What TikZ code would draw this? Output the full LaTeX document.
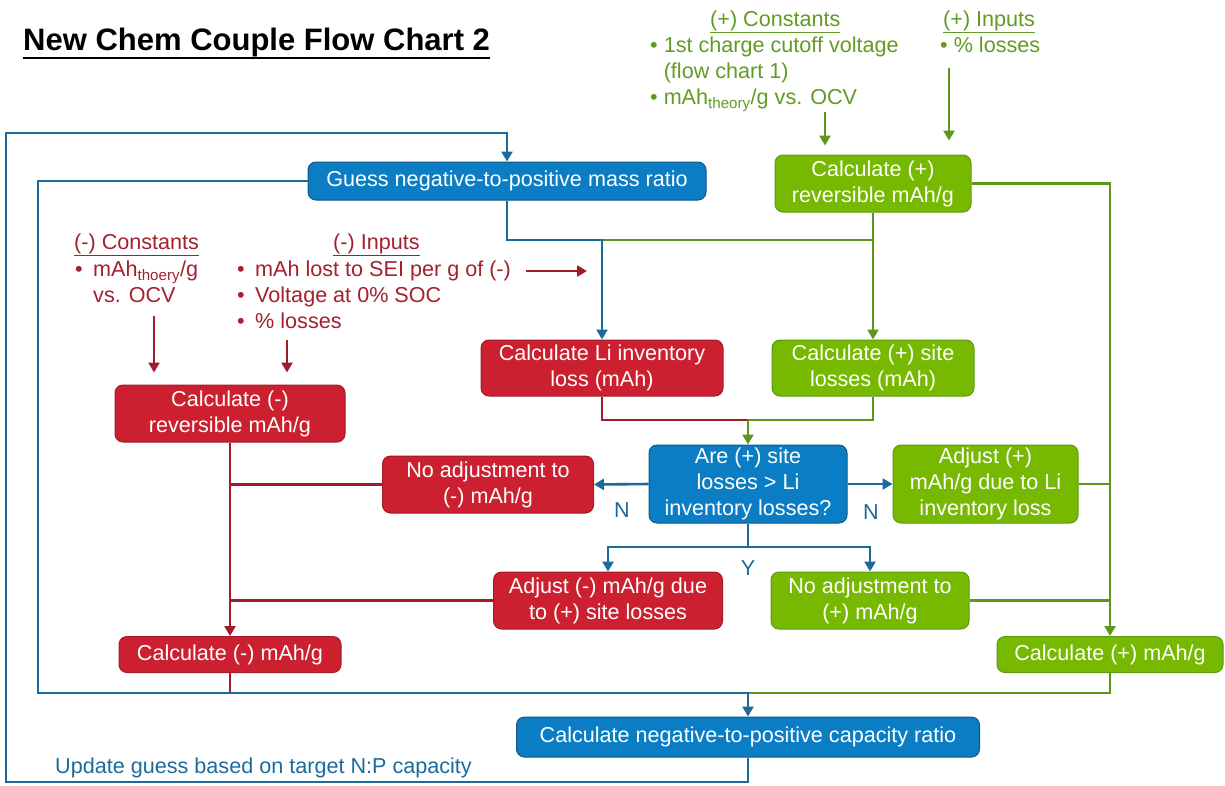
\documentclass[tikz,border=0pt]{standalone}
\usepackage{fontspec}
\setmainfont{Liberation Sans}
\usepackage{tikz}
\usepackage{xcolor}
\usetikzlibrary{arrows.meta,positioning,calc}
\definecolor{negfill}{HTML}{CC1F2F}
\definecolor{negline}{HTML}{A01C2B}
\definecolor{negtext}{HTML}{A3202E}
\definecolor{posfill}{HTML}{76B900}
\definecolor{posedge}{HTML}{5C9A12}
\definecolor{posline}{HTML}{5E961B}
\definecolor{postext}{HTML}{629B22}
\definecolor{ratfill}{HTML}{0A7DC4}
\definecolor{ratedge}{HTML}{16557F}
\definecolor{ratline}{HTML}{1C6A9C}
\newcommand{\boxfont}{\fontsize{21.6}{26}\selectfont}
\newcommand{\negbul}{\makebox[18pt][l]{\textbullet}}
\tikzset{
  box/.style={rounded corners=8pt, line width=1pt, text=white, align=center,
              inner sep=2pt, font=\boxfont},
  negbox/.style={box, draw=negline, fill=negfill},
  posbox/.style={box, draw=posedge, fill=posfill},
  ratbox/.style={box, draw=ratedge, fill=ratfill},
  wire/.style={line width=2.6pt},
  negwire/.style={wire, draw=negline},
  poswire/.style={wire, draw=posline},
  ratwire/.style={wire, draw=ratline},
  tip/.style={-{Triangle[length=10pt,width=11pt]}},
  note/.style={align=left, inner sep=0pt, font=\boxfont, anchor=base west}
}

\begin{document}
\begin{tikzpicture}[x=1pt,y=-1pt]
    \useasboundingbox (0,0) rectangle (1225,785);
    \node[font=\fontsize{31}{36}\selectfont\bfseries, anchor=base west, inner sep=0pt]
      (title) at (23,50) {New Chem Couple Flow Chart 2};
    \draw[line width=2.4pt] ([yshift=-8pt]title.base west) -- ([yshift=-8pt]title.base east);

    % ===== inputs and constants (base = last line) =====
    \node[note, text=postext] (posconsthead) at (710,26) {\underline{(+) Constants}};
    \node[note, text=postext] (posconst) at (650,104.5)
      {\textbullet{} 1st charge cutoff voltage\\
       \phantom{\textbullet{} }(flow chart 1)\\
       \textbullet{} mAh\textsubscript{theory}/g vs. OCV};
    \node[note, text=postext] (posinhead) at (943,26) {\underline{(+) Inputs}};
    \node[note, text=postext] (posin) at (940,52.5) {\textbullet{} \% losses};
    \node[note, text=negtext] (negconsthead) at (74,249) {\underline{(-) Constants}};
    \node[note, text=negtext] (negconst) at (75,302.5)
      {\negbul mAh\textsubscript{thoery}/g\\
       \phantom{\negbul}vs. OCV};
    \node[note, text=negtext] (neginhead) at (333,249) {\underline{(-) Inputs}};
    \node[note, text=negtext] (negin) at (237,328.5)
      {\negbul mAh lost to SEI per g of (-)\\
       \negbul Voltage at 0\% SOC\\
       \negbul \% losses};

    % ===== boxes =====
    \node[ratbox, minimum width=398pt, minimum height=38pt] (guess) at (507,181)
      {Guess negative-to-positive mass ratio};
    \node[posbox, minimum width=196pt, minimum height=57pt] (revpos) at (873,183.5)
      {Calculate (+)\\reversible mAh/g};
    \node[negbox, minimum width=230pt, minimum height=57pt] (revneg) at (230,413.5)
      {Calculate (-)\\reversible mAh/g};
    \node[negbox, minimum width=242pt, minimum height=56pt] (liloss) at (602,368)
      {Calculate Li inventory\\loss (mAh)};
    \node[posbox, minimum width=202pt, minimum height=56pt] (siteloss) at (873,368)
      {Calculate (+) site\\losses (mAh)};
    \node[ratbox, minimum width=198pt, minimum height=78pt] (decide) at (748,484)
      {Are (+) site\\losses > Li\\inventory losses?};
    \node[negbox, minimum width=211pt, minimum height=57pt] (noadjneg) at (488,484.5)
      {No adjustment to\\(-) mAh/g};
    \node[posbox, minimum width=185pt, minimum height=78pt] (adjpos) at (985.5,484)
      {Adjust (+)\\mAh/g due to Li\\inventory loss};
    \node[negbox, minimum width=229pt, minimum height=57pt] (adjneg) at (608,600.5)
      {Adjust (-) mAh/g due\\to (+) site losses};
    \node[posbox, minimum width=198pt, minimum height=57pt] (noadjpos) at (870,600.5)
      {No adjustment to\\(+) mAh/g};
    \node[negbox, minimum width=222pt, minimum height=36pt] (calcneg) at (230,654.5)
      {Calculate (-) mAh/g};
    \node[posbox, minimum width=226pt, minimum height=36pt] (calcpos) at (1110,654.5)
      {Calculate (+) mAh/g};
    \node[ratbox, minimum width=463pt, minimum height=40pt] (npratio) at (748,737)
      {Calculate negative-to-positive capacity ratio};

    % ===== labels =====
    \node[font=\boxfont, text=ratline] (nleft) at (622,510) {N};
    \node[font=\boxfont, text=ratline] (nright) at (871,512) {N};
    \node[font=\boxfont, text=ratline] (yes) at (748,568) {Y};
    \node[note, text=ratline] (update) at (55,773)
      {Update guess based on target N:P capacity};

    % ===== helper points =====
    \coordinate (busy) at (0,240);
    \coordinate (mergeA) at (748,420);
    \coordinate (ysplit) at (748,547);
    \coordinate (joinbot) at (748,693);
    \coordinate (loopbl) at (6,782);
    \coordinate (looptl) at (6,133);
    \coordinate (innerbl) at (38,693);
    \coordinate (seifrom) at (526,271);
    \coordinate (seitip) at (587,271);
    \coordinate (posconstout) at (825,112);
    \coordinate (posinout) at (949,68);
    \coordinate (negconstout) at (154,316);
    \coordinate (neginout) at (287,340);

    % ===== input arrows =====
    \draw[poswire,tip,shorten >=9pt] (posconstout) -- (posconstout |- revpos.north);
    \draw[poswire,tip,shorten >=14pt] (posinout) -- (posinout |- revpos.north);
    \draw[negwire,tip,shorten >=12pt] (negconstout) -- (negconstout |- revneg.north);
    \draw[negwire,tip,shorten >=12pt] (neginout) -- (neginout |- revneg.north);
    \draw[negwire,tip] (seifrom) -- (seitip);

    % ===== mass ratio loop =====
    \draw[ratwire,tip] (npratio.south) |- (loopbl) -- (looptl) -| (guess.north);
    \draw[negwire] (calcneg.south) -- (calcneg.south |- joinbot);
    \draw[poswire] (calcpos.south) |- (joinbot);
    \draw[ratwire,tip] (guess.west) -| (innerbl) -| (npratio.north);

    % ===== loss branch =====
    \draw[poswire] (revpos.south |- busy) -- (liloss.north |- busy);
    \draw[poswire,tip] (revpos.south) -- (siteloss.north);
    \draw[ratwire,tip] (guess.south) |- (liloss.north |- busy) -- (liloss.north);
    \draw[negwire] (liloss.south) |- (mergeA);
    \draw[poswire] (siteloss.south) |- (mergeA);
    \draw[poswire,tip] (mergeA) -- (decide.north);

    % ===== decision =====
    \draw[ratwire,tip] (decide.west) -- (noadjneg.east);
    \draw[ratwire,tip] (decide.east) -- (adjpos.west);
    \draw[ratwire,tip] (decide.south) -- (ysplit) -| (adjneg.north);
    \draw[ratwire,tip] (ysplit) -| (noadjpos.north);

    % ===== (-) side =====
    \draw[negwire,tip] (revneg.south) -- (calcneg.north);
    \draw[negwire] (noadjneg.west) -- (noadjneg.west -| revneg.south);
    \draw[negwire] (adjneg.west) -- (adjneg.west -| revneg.south);

    % ===== (+) side =====
    \draw[poswire,tip] (revpos.east) -| (calcpos.north);
    \draw[poswire] (adjpos.east) -- (adjpos.east -| calcpos.north);
    \draw[poswire] (noadjpos.east) -- (noadjpos.east -| calcpos.north);
\end{tikzpicture}
\end{document}
